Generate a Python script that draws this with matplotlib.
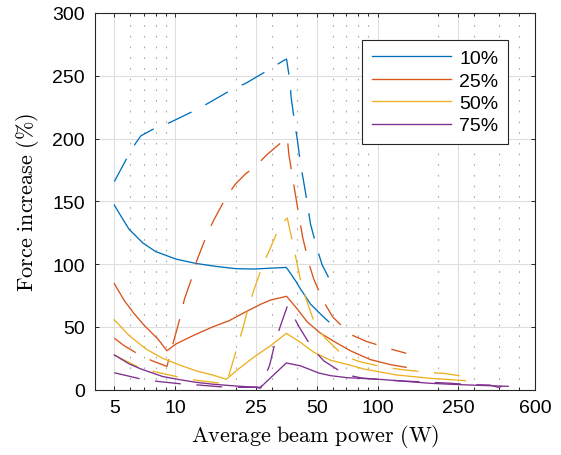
import matplotlib
matplotlib.use('Agg')
import matplotlib.pyplot as plt
from matplotlib.ticker import FixedLocator, FixedFormatter, NullFormatter

plt.rcParams['lines.scale_dashes'] = False
plt.rcParams['mathtext.fontset'] = 'cm'
plt.rcParams['font.family'] = ['Liberation Sans', 'DejaVu Sans']

# ---------------- data ----------------
labels = ['10%', '25%', '50%', '75%']
colors = ['#0072BD', '#D95319', '#EDB120', '#7E2F8E']

b_sx = [5, 5.5, 5.9, 6.9, 8.0, 10.1, 12.6, 15.9, 19.9, 24.5, 35.4, 39.3, 41.6, 44.9, 46.6, 52.2, 57.4]
b_sy = [147, 136, 128, 117, 110, 104, 100.6, 98.2, 96.4, 96.1, 97.4, 86.8, 80.2, 72.2, 68.2, 60.3, 54.1]
b_dx = [5, 5.76, 6.33, 6.77, 7.97, 9.45, 12.4, 14.5, 19.0, 22.3, 29.0, 34.2, 35.5, 36.9, 37.4, 39.0,
        40.1, 41.6, 42.9, 44.6, 45.3, 46.6, 50.3, 53.2, 57.4]
b_dy = [165.7, 184.2, 195.6, 202.2, 208.4, 212.9, 222.1, 228, 238.9, 244, 254.8, 262, 263.3, 245.2,
        232.8, 211.5, 199.6, 179.7, 167.8, 151.8, 145, 132, 112, 99.5, 89]

o_sx = [5, 5.6, 6.2, 7.0, 8.2, 9.1, 10.1, 12.6, 15.3, 18.5, 22.3, 26.4, 29.6, 35.5, 40.1, 44.9,
        52.2, 63.1, 73.4, 92, 115.5, 138.5]
o_sy = [84.5, 71, 61.5, 51.5, 40.5, 31, 36.5, 44, 50, 55, 62, 68, 71.4, 74.4, 64.3, 54,
        45, 37, 31, 24, 20, 17.8]
o_dx = [5, 5.6, 6.46, 7.6, 9.1, 9.8, 10.6, 11.1, 12.2, 12.8, 14.3, 15.5, 17.8, 19.9, 22.3, 24.8,
        28.3, 35.8, 36.4, 38.1, 39.3, 41.2, 42.7, 45.7, 48.4, 54.2, 60, 73.4, 88, 116, 138.5]
o_dy = [41, 35, 29, 23.4, 18.5, 38, 58, 72, 91, 103, 123, 135, 153, 164, 172, 177.5,
        187, 201, 188, 168, 155, 135, 121, 101, 88, 70, 58, 44, 38.5, 32.4, 29]

y_sx = [5, 5.93, 7.17, 8.67, 10.5, 12.65, 15.3, 17.9, 20, 22.3, 25, 29.6, 35.4, 41.6, 48.4,
        58.5, 73.4, 85.3, 124.6, 181.8, 272]
y_sy = [55.7, 43, 32.4, 25, 19.7, 15.1, 11.7, 8.3, 15, 21, 27, 35, 44.9, 37.7, 29.8,
        23.5, 19.5, 16.5, 11.7, 9.1, 7.2]
y_dx = [5, 6.6, 7.8, 10.5, 12.65, 17.1, 17.9, 18.7, 20.3, 21.5, 23.1, 24.5, 27.1, 29.3, 32.9,
        35.8, 38.1, 39.7, 42.4, 49.3, 55.2, 68, 81.6, 105, 132, 177, 213, 272]
y_dy = [27.6, 17.8, 14.6, 9.9, 7.5, 5.1, 4.5, 15.1, 34.6, 47.8, 66.9, 79.6, 99.5, 111.5, 130.6,
        136.7, 116.6, 103, 81, 51, 41, 27, 22.3, 18.3, 16, 13.8, 13, 10.4]

p_sx = [5, 5.93, 6.77, 8.67, 10.5, 12.65, 15.3, 19, 22.3, 26.4, 35.4, 41.6, 51.2, 58.5, 70.5,
        103, 182, 255, 442]
p_sy = [27.7, 20.5, 16.5, 10.5, 8, 5.9, 4.4, 3.2, 2.4, 1.9, 21.3, 19, 13.3, 11.2, 9.6,
        8.2, 5.1, 4, 2.7]
p_dx = [5, 6.78, 8.1, 10.9, 13.1, 17.4, 21.1, 25.0, 26.4, 29.3, 31.3, 33.3, 35.8, 37.4, 40.8,
        47.5, 54.2, 69.3, 83.7, 112, 135, 182, 220, 294, 359, 394, 442]
p_dy = [13.5, 8.5, 6.7, 4.5, 3.7, 2.1, 1.9, 1.9, 1.2, 19.7, 39, 52, 66.4, 62, 50.5,
        33, 23, 12, 9.3, 7.7, 6.9, 5.9, 5.3, 4, 3.7, 1.9, 3.7]

solid_x = [b_sx, o_sx, y_sx, p_sx]
solid_y = [b_sy, o_sy, y_sy, p_sy]
dash_x = [b_dx, o_dx, y_dx, p_dx]
dash_y = [b_dy, o_dy, y_dy, p_dy]

x_ticks = [5, 10, 25, 50, 100, 250, 600]
x_minor = [6, 7, 8, 9, 20, 30, 40, 60, 70, 80, 90, 200, 300, 400, 500]
y_ticks = [0, 50, 100, 150, 200, 250, 300]

# ---------------- figure ----------------
fig = plt.figure(figsize=(5.61, 4.56), dpi=100)
ax = fig.add_axes([0.1688, 0.1432, 0.7849, 0.8261])

ax.set_xscale('log')
ax.set_xlim(4, 600)
ax.set_ylim(0, 300)

handles = []
for i in range(4):
    h, = ax.plot(solid_x[i], solid_y[i], color=colors[i], lw=0.95, label=labels[i], zorder=3)
    ax.plot(dash_x[i], dash_y[i], color=colors[i], lw=0.95, dashes=(18.7, 11.2), zorder=3)
    handles.append(h)

ax.xaxis.set_major_locator(FixedLocator(x_ticks))
ax.xaxis.set_major_formatter(FixedFormatter([str(v) for v in x_ticks]))
ax.xaxis.set_minor_locator(FixedLocator(x_minor))
ax.xaxis.set_minor_formatter(NullFormatter())
ax.set_yticks(y_ticks)

ax.grid(True, which='major', color='#dedede', lw=0.8, ls='-', zorder=0)
ax.grid(True, which='minor', axis='x', color='#a8a8a8', lw=0.8, ls=(0, (1.2, 6.5)), zorder=0)
ax.set_axisbelow(True)

for s in ax.spines.values():
    s.set_color('#262626')
    s.set_linewidth(0.8)

ax.tick_params(which='both', direction='in', top=True, right=True, colors='#262626',
               labelcolor='black', labelsize=14)
ax.tick_params(which='major', length=3.2, width=0.7, pad=7)
ax.tick_params(which='minor', length=2.0, width=0.7)

ax.set_xlabel(r'$\mathrm{Average\ beam\ power\ (W)}$', fontsize=16, labelpad=4)
ax.set_ylabel(r'$\mathrm{Force\ increase\ (\%)}$', fontsize=16, labelpad=8)

leg = ax.legend(handles=handles, loc='upper right', bbox_to_anchor=(0.9394, 0.929),
                fontsize=14, frameon=True, fancybox=False, framealpha=1,
                edgecolor='#262626', borderaxespad=0, handlelength=4.1,
                handletextpad=0.42, borderpad=0.5, labelspacing=0.25)
leg.get_frame().set_linewidth(0.8)

fig.savefig('out.png', dpi=100)
